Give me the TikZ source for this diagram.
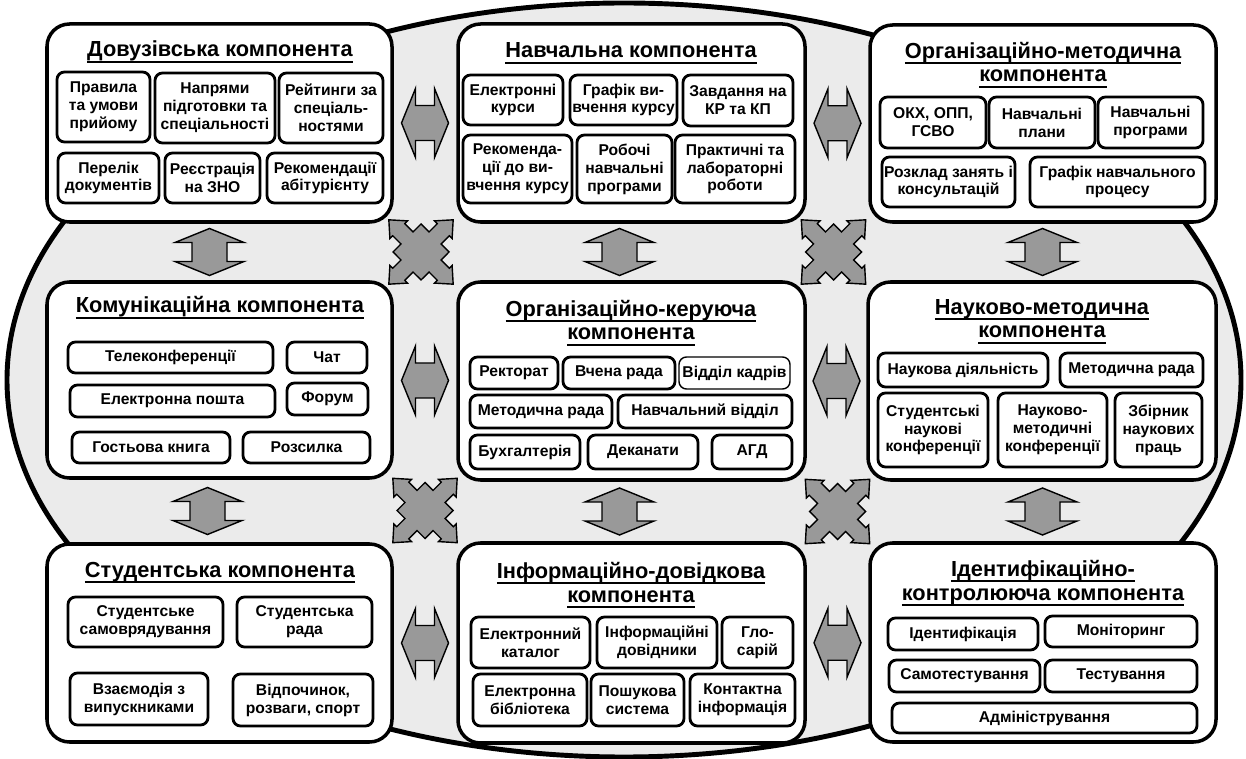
\documentclass[tikz,border=0pt]{standalone}
\usepackage{fontspec}
\setmainfont{Liberation Sans}
\usetikzlibrary{fit,calc}

\newcommand{\hdr}[1]{\setbox0=\hbox{#1}\rlap{\rule[-3.6pt]{\wd0}{1.1pt}}\box0}

\tikzset{
  comp/.style={draw, line width=2pt, rounded corners=0.45cm, fill=white, inner sep=0pt},
  item/.style={draw, line width=1.6pt, rounded corners=0.15cm, fill=white, inner sep=0pt,
    align=center, font=\fontsize{8.9}{10.2}\selectfont\bfseries},
  span/.style args={#1/#2/#3/#4}{minimum width={(#3-#1)*0.02cm}, minimum height={(#4-#2)*0.02cm},
    at={({(#1+#3)/2},{(#2+#4)/2})}},
  ttl/.style={inner sep=0pt, align=center, font=\fontsize{12.4}{13.6}\selectfont\bfseries},
  arrsty/.style={draw, line width=0.8pt, fill=black!40, line join=miter},
  dblarr/.pic={\path[arrsty] (-23.5,0) -- (-9.5,-34.5) -- (-9.5,-17.5) -- (9.5,-17.5) -- (9.5,-34.5)
    -- (23.5,0) -- (9.5,34.5) -- (9.5,17.5) -- (-9.5,17.5) -- (-9.5,34.5) -- cycle;},
  xarr/.pic={\path[arrsty] (0:28) \foreach \t in {45,135,225,315}{ -- (\t-23.2:21.55)
    -- (\t-15.1:32.6) -- (\t-21.6:33.9) -- (\t:45.5) -- (\t+21.6:33.9)
    -- (\t+15.1:32.6) -- (\t+23.2:21.55) -- (\t+45:28)} -- cycle;}
}

\begin{document}
\begin{tikzpicture}[x=0.02cm, y=-0.02cm]

\fill[white] (0,0) rectangle (1246,759);
\useasboundingbox (0,0) rectangle (1246,759);

%% background
\draw[line width=2.8pt, fill=black!8] (624,380) ellipse [x radius=617, y radius=377];

%% components
\node[comp, fit={(47,24) (392,222)}] (dov) {};
\node[comp, fit={(458,24) (805,222)}] (nav) {};
\node[comp, fit={(870,25) (1216,222)}] (orgm) {};
\node[comp, fit={(47,282) (392,478)}] (kom) {};
\node[comp, fit={(458,282) (805,480)}] (ork) {};
\node[comp, fit={(868,282) (1216,480)}] (nauk) {};
\node[comp, fit={(47,544) (392,742)}] (stud) {};
\node[comp, fit={(458,543) (805,743)}] (info) {};
\node[comp, fit={(870,543) (1216,742)}] (ident) {};

%% titles
\node[ttl, anchor=base] (dovt) at (220,57) {\hdr{Довузівська компонента}};
\node[ttl, anchor=base] (navt) at (631,58) {\hdr{Навчальна компонента}};
\node[ttl, anchor=base] (orgmt) at (1043,82) {\hdr{Організаційно-методична}\\\hdr{компонента}};
\node[ttl, anchor=base] (komt) at (220,313) {\hdr{Комунікаційна компонента}};
\node[ttl, anchor=base] (orkt) at (631,340) {\hdr{Організаційно-керуюча}\\\hdr{компонента}};
\node[ttl, anchor=base] (naukt) at (1042,338) {\hdr{Науково-методична}\\\hdr{компонента}};
\node[ttl, anchor=base] (studt) at (220,577) {\hdr{Студентська компонента}};
\node[ttl, anchor=base] (infot) at (631,602) {\hdr{Інформаційно-довідкова}\\\hdr{компонента}};
\node[ttl, anchor=base] (identt) at (1043,600) {\hdr{Ідентифікаційно-}\\\hdr{контролююча компонента}};

%% dov
\node[item, span=57/72/150/142] (dov1) {Правила\\та умови\\прийому};
\node[item, span=155/73/275/143] (dov2) {Напрями\\підготовки та\\спеціальності};
\node[item, span=279/73/383/143] (dov3) {Рейтинги за\\спеціаль-\\ностями};
\node[item, span=58/153/159/203] (dov4) {Перелік\\документів};
\node[item, span=165/153/260/203] (dov5) {Реєстрація\\на ЗНО};
\node[item, span=267/153/383/203] (dov6) {Рекомендації\\абітурієнту};

%% nav
\node[item, span=463/75/563/125] (nav1) {Електронні\\курси};
\node[item, span=570/75/677/125] (nav2) {Графік ви-\\вчення курсу};
\node[item, span=683/75/793/126] (nav3) {Завдання на\\КР та КП};
\node[item, span=463/135/572/203] (nav4) {Рекоменда-\\ції до ви-\\вчення курсу};
\node[item, span=577/135/672/203] (nav5) {Робочі\\навчальні\\програми};
\node[item, span=675/135/795/203] (nav6) {Практичні та\\лабораторні\\роботи};

%% orgm
\node[item, span=880/97/986/148] (orgm1) {ОКХ, ОПП,\\ГСВО};
\node[item, span=989/97/1095/148] (orgm2) {Навчальні\\плани};
\node[item, span=1098/97/1203/148] (orgm3) {Навчальні\\програми};
\node[item, span=882/157/1015/207] (orgm4) {Розклад занять і\\консультацій};
\node[item, span=1030/157/1205/207] (orgm5) {Графік навчального\\процесу};

%% kom
\node[item, span=68/342/273/373] (kom1) {Телеконференції};
\node[item, span=287/342/367/373] (kom2) {Чат};
\node[item, span=70/385/275/417] (kom3) {Електронна пошта};
\node[item, span=287/383/368/415] (kom4) {Форум};
\node[item, span=72/432/230/463] (kom5) {Гостьова книга};
\node[item, span=243/432/370/463] (kom6) {Розсилка};

%% ork
\node[item, span=470/357/558/389] (ork1) {Ректорат};
\node[item, span=563/357/675/389] (ork2) {Вчена рада};
\node[item, line width=0.8pt, span=679/357/790/389] (ork3) {Відділ кадрів};
\node[item, span=470/395/612/428] (ork4) {Методична рада};
\node[item, span=618/395/792/428] (ork5) {Навчальний відділ};
\node[item, span=470/435/580/469] (ork6) {Бухгалтерія};
\node[item, span=588/435/698/469] (ork7) {Деканати};
\node[item, span=712/435/792/469] (ork8) {АГД};

%% nauk
\node[item, span=878/353/1048/387] (nauk1) {Наукова діяльність};
\node[item, span=1060/353/1203/387] (nauk2) {Методична рада};
\node[item, span=878/393/988/467] (nauk3) {Студентські\\наукові\\конференції};
\node[item, span=998/393/1107/467] (nauk4) {Науково-\\методичні\\конференції};
\node[item, span=1115/393/1202/467] (nauk5) {Збірник\\наукових\\праць};

%% stud
\node[item, span=68/597/223/647] (stud1) {Студентське\\самоврядування};
\node[item, span=237/597/372/647] (stud2) {Студентська\\рада};
\node[item, span=70/673/208/725] (stud3) {Взаємодія з\\випускниками};
\node[item, span=233/674/373/726] (stud4) {Відпочинок,\\розваги, спорт};

%% info
\node[item, span=471/617/590/668] (info1) {Електронний\\каталог};
\node[item, span=597/617/717/668] (info2) {Інформаційні\\довідники};
\node[item, span=722/617/793/668] (info3) {Гло-\\сарій};
\node[item, span=473/674/587/726] (info4) {Електронна\\бібліотека};
\node[item, span=591/674/684/726] (info5) {Пошукова\\система};
\node[item, span=690/674/795/726] (info6) {Контактна\\інформація};

%% ident
\node[item, span=888/618/1038/650] (ident1) {Ідентифікація};
\node[item, span=1045/616/1197/647] (ident2) {Моніторинг};
\node[item, span=889/660/1040/692] (ident3) {Самотестування};
\node[item, span=1045/660/1197/692] (ident4) {Тестування};
\node[item, span=892/703/1197/733] (ident5) {Адміністрування};

%% arrows between columns
\pic at ($(dov.east)!.5!(nav.west)$) {dblarr};
\pic at ($(nav.east)!.5!(orgm.west)$) {dblarr};
\pic at ($(kom.east)!.5!(ork.west)$) {dblarr};
\pic at ($(ork.east)!.5!(nauk.west)$) {dblarr};
\pic at ($(stud.east)!.5!(info.west)$) {dblarr};
\pic at ($(info.east)!.5!(ident.west)$) {dblarr};

%% arrows between rows
\pic[rotate=90] at ($(dov.south)!.5!(kom.north)+(-10,0)$) {dblarr};
\pic[rotate=90] at ($(nav.south)!.5!(ork.north)+(-12,0)$) {dblarr};
\pic[rotate=90] at ($(orgm.south)!.5!(nauk.north)$) {dblarr};
\pic[rotate=90] at ($(kom.south)!.5!(stud.north)+(-12,0)$) {dblarr};
\pic[rotate=90] at ($(ork.south)!.5!(info.north)+(-12,0)$) {dblarr};
\pic[rotate=90] at ($(nauk.south)!.5!(ident.north)$) {dblarr};

%% cross arrows
\pic at ($(dov.south east)!.5!(ork.north west)+(-4,0)$) {xarr};
\pic at ($(nav.south east)!.5!(nauk.north west)+(-3,0)$) {xarr};
\pic at ($(kom.south east)!.5!(info.north west)$) {xarr};
\pic at ($(ork.south east)!.5!(ident.north west)$) {xarr};

\end{tikzpicture}
\end{document}
